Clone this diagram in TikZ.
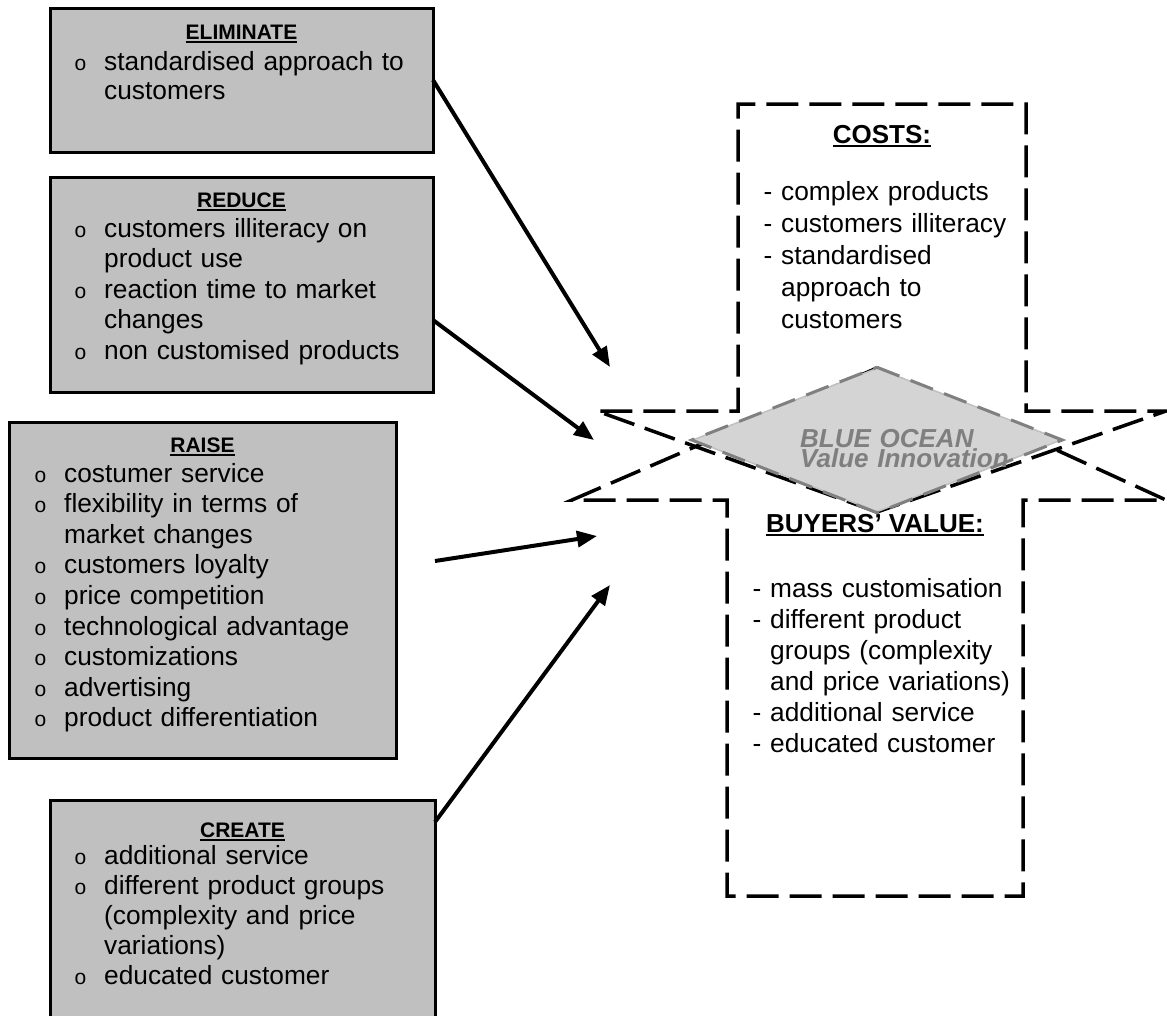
\documentclass[tikz,border=0pt]{standalone}
\usepackage{fontspec}
\setmainfont{Liberation Sans}
\usetikzlibrary{arrows.meta,shapes.geometric}
\definecolor{boxgray}{RGB}{192,192,192}
\definecolor{diafill}{RGB}{212,212,212}
\definecolor{diaedge}{RGB}{128,128,128}
\definecolor{dialight}{RGB}{192,192,192}
\definecolor{txtgray}{RGB}{127,127,127}
\newsavebox\ulinbox
\newcommand\ulin[1]{\sbox\ulinbox{#1}\rlap{\rule[-3.8pt]{\wd\ulinbox}{2pt}}\usebox\ulinbox}
\newcommand\bul{\leavevmode\llap{{\fontsize{21}{21}\selectfont o}\hspace{18pt}}}
\newcommand\dsh{\leavevmode\llap{- }}
\tikzset{
  gbox/.style={draw=black, line width=3pt, fill=boxgray, rectangle, inner sep=0pt, outer sep=0pt},
  frame/.style={rectangle, inner sep=0pt, outer sep=0pt},
  body/.style={anchor=base west, inner sep=0pt, text width=400pt, align=left},
  ttl/.style={anchor=base, inner sep=0pt, font=\fontsize{21}{25}\selectfont\bfseries},
  bigttl/.style={anchor=base, inner sep=0pt, font=\fontsize{26}{30}\selectfont\bfseries},
  blackdash/.style={line width=3.5pt, dash pattern=on 32pt off 11pt, line join=miter},
  arr/.style={line width=4pt, -{Triangle[length=20pt,width=16pt]}},
}
\begin{document}
\begin{tikzpicture}[x=1pt,y=-1pt]
\useasboundingbox (0,0) rectangle (1167,1015);

% ---------- left boxes ----------
\node[gbox, minimum width=383pt, minimum height=144pt] (elim) at (241.5,80) {};
\node[ttl] (elimT) at (241.5,39) {\ulin{ELIMINATE}};
\node[body, font=\fontsize{26.3}{29.5}\selectfont] (elimB) at (104,70)
  {\bul standardised approach to\\customers};

\node[gbox, minimum width=383pt, minimum height=215pt] (reduce) at (241.5,284.5) {};
\node[ttl] (reduceT) at (241.5,207) {\ulin{REDUCE}};
\node[body, font=\fontsize{26.3}{30.5}\selectfont] (reduceB) at (104,237)
  {\bul customers illiteracy on\\product use\\\bul reaction time to market\\changes\\\bul non customised products};

\node[gbox, minimum width=387pt, minimum height=336pt] (raise) at (202.5,590) {};
\node[ttl] (raiseT) at (202.5,452) {\ulin{RAISE}};
\node[body, font=\fontsize{26.3}{30.6}\selectfont] (raiseB) at (64,482)
  {\bul costumer service\\\bul flexibility in terms of\\market changes\\\bul customers loyalty\\\bul price competition\\\bul technological advantage\\\bul customizations\\\bul advertising\\\bul product differentiation};

\node[gbox, minimum width=385pt, minimum height=240pt] (create) at (242.5,920) {};
\node[ttl] (createT) at (242.5,837) {\ulin{CREATE}};
\node[body, font=\fontsize{26.3}{30}\selectfont] (createB) at (104,864)
  {\bul additional service\\\bul different product groups\\(complexity and price\\variations)\\\bul educated customer};

% ---------- centre: dashed outlines ----------
\coordinate (TL) at (597,411);
\coordinate (TR) at (1166,411);
\coordinate (BL) at (572,500);
\coordinate (BR) at (1166,500);
\coordinate (DT) at (877,368);
\coordinate (DB) at (877,512);
\node[frame, minimum width=288pt, minimum height=307pt] (costs) at (882,257.5) {};
\node[frame, minimum width=296pt, minimum height=396pt] (buyers) at (875,698) {};

\draw[blackdash] (DB) -- (TL) -- (costs.south west) -- (costs.north west)
  -- (costs.north east) -- (costs.south east) -- (TR) -- (DB);
\draw[blackdash] (DT) -- (BL) -- (buyers.north west) -- (buyers.south west)
  -- (buyers.south east) -- (buyers.north east) -- (BR) -- (DT);

% ---------- diamond ----------
\node[diamond, fill=diafill, draw=dialight, line width=1.5pt, minimum width=369pt,
      minimum height=144pt, aspect=2.5625, inner sep=0pt] (dia) at (877,440) {};
\draw[diaedge, line width=3pt, dash pattern=on 24pt off 12pt]
  (dia.north) -- (dia.east) -- (dia.south) -- (dia.west) -- cycle;
\node[anchor=base west, inner sep=0pt, text width=260pt, align=left,
      font=\fontsize{26}{19}\selectfont\bfseries\itshape, text=txtgray] (bo) at (800,447)
  {BLUE OCEAN\\Value Innovation};

% ---------- dashed box texts ----------
\node[bigttl] (costsT) at (882,143) {\ulin{COSTS:}};
\node[body, font=\fontsize{26.3}{32}\selectfont] (costsB) at (781,200)
  {\dsh complex products\\\dsh customers illiteracy\\\dsh standardised\\approach to\\customers};

\node[bigttl] (buyersT) at (875,532) {\ulin{BUYERS’ VALUE:}};
\node[body, font=\fontsize{26.3}{31}\selectfont] (buyersB) at (770,597)
  {\dsh mass customisation\\\dsh different product\\groups (complexity\\and price variations)\\\dsh additional service\\\dsh educated customer};

% ---------- arrows ----------
\coordinate (t1) at (610,367);
\coordinate (t2) at (594,440);
\coordinate (s3) at (435,561);
\coordinate (t3) at (597,536);
\coordinate (t4) at (610,585);
\draw[arr] (elim.east) -- (t1);
\draw[arr] ([yshift=-35.5pt]reduce.east) -- (t2);
\draw[arr] (s3) -- (t3);
\draw[arr] ([yshift=-22pt]create.north east) -- (t4);
\end{tikzpicture}
\end{document}
